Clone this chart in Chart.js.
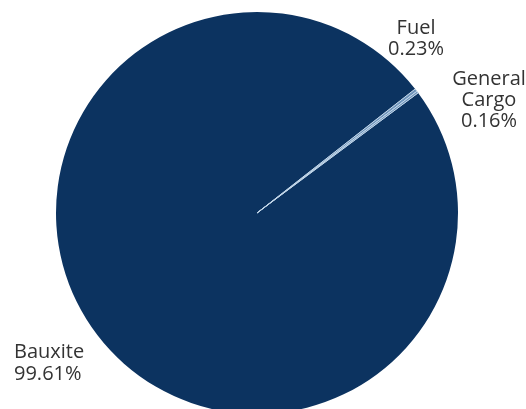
<!DOCTYPE html>
<html>
<head>
<meta charset="utf-8">
<script src="https://cdn.jsdelivr.net/npm/chart.js@4"></script>
<style>
  html, body { margin: 0; padding: 0; background: #fff; overflow: hidden; }
  #wrap { width: 526px; height: 414px; }
</style>
</head>
<body>
<div id="wrap"><canvas id="myChart" width="526" height="414"></canvas></div>
<script>
// cargo share, percent
const categories = ['Bauxite', 'Fuel', 'General Cargo'];
const shares = [99.61, 0.23, 0.16];
const shareLabels = ['99.61%', '0.23%', '0.16%'];
const labelLines = [['Bauxite'], ['Fuel'], ['General', 'Cargo']];

const sliceColors = ['#0c3360', '#6f94bb', '#6f94bb'];
const sliceBorders = ['#0c3360', '#c2d6e8', '#c2d6e8'];
const sliceBorderWidths = [0, 1, 1];

// where each label sits, relative to the pie centre
const labelLayout = [
    { dx: -243, dy: 145, align: 'left', lineHeight: 22 },
    { dx: 159, dy: -179, align: 'center', lineHeight: 21 },
    { dx: 232, dy: -128, align: 'center', lineHeight: 21 }
];

const sliceLabels = {
    id: 'sliceLabels',
    afterDraw(chart) {
        const ctx = chart.ctx;
        const arc = chart.getDatasetMeta(0).data[0];
        const cx = arc.x, cy = arc.y;
        ctx.save();
        ctx.font = '20px "Open Sans"';
        ctx.fillStyle = '#333';
        ctx.textBaseline = 'alphabetic';
        categories.forEach((cat, i) => {
            const lay = labelLayout[i];
            const lines = labelLines[i].concat([shareLabels[i]]);
            ctx.textAlign = lay.align;
            lines.forEach((line, j) => {
                ctx.fillText(line, cx + lay.dx, cy + lay.dy + j * lay.lineHeight);
            });
        });
        ctx.restore();
    }
};

const ctx = document.getElementById('myChart').getContext('2d');
new Chart(ctx, {
    type: 'pie',
    data: {
        labels: categories,
        datasets: [{
            data: shares,
            backgroundColor: sliceColors,
            borderColor: sliceBorders,
            borderWidth: sliceBorderWidths,
            hoverBorderWidth: 0,
            hoverOffset: 0
        }]
    },
    options: {
        responsive: false,
        animation: false,
        events: [],
        rotation: 53.3,
        radius: 201,
        layout: { padding: { left: 56, right: 68, top: 12, bottom: 0 } },
        plugins: {
            legend: { display: false },
            tooltip: { enabled: false }
        }
    },
    plugins: [sliceLabels]
});
</script>
</body>
</html>
